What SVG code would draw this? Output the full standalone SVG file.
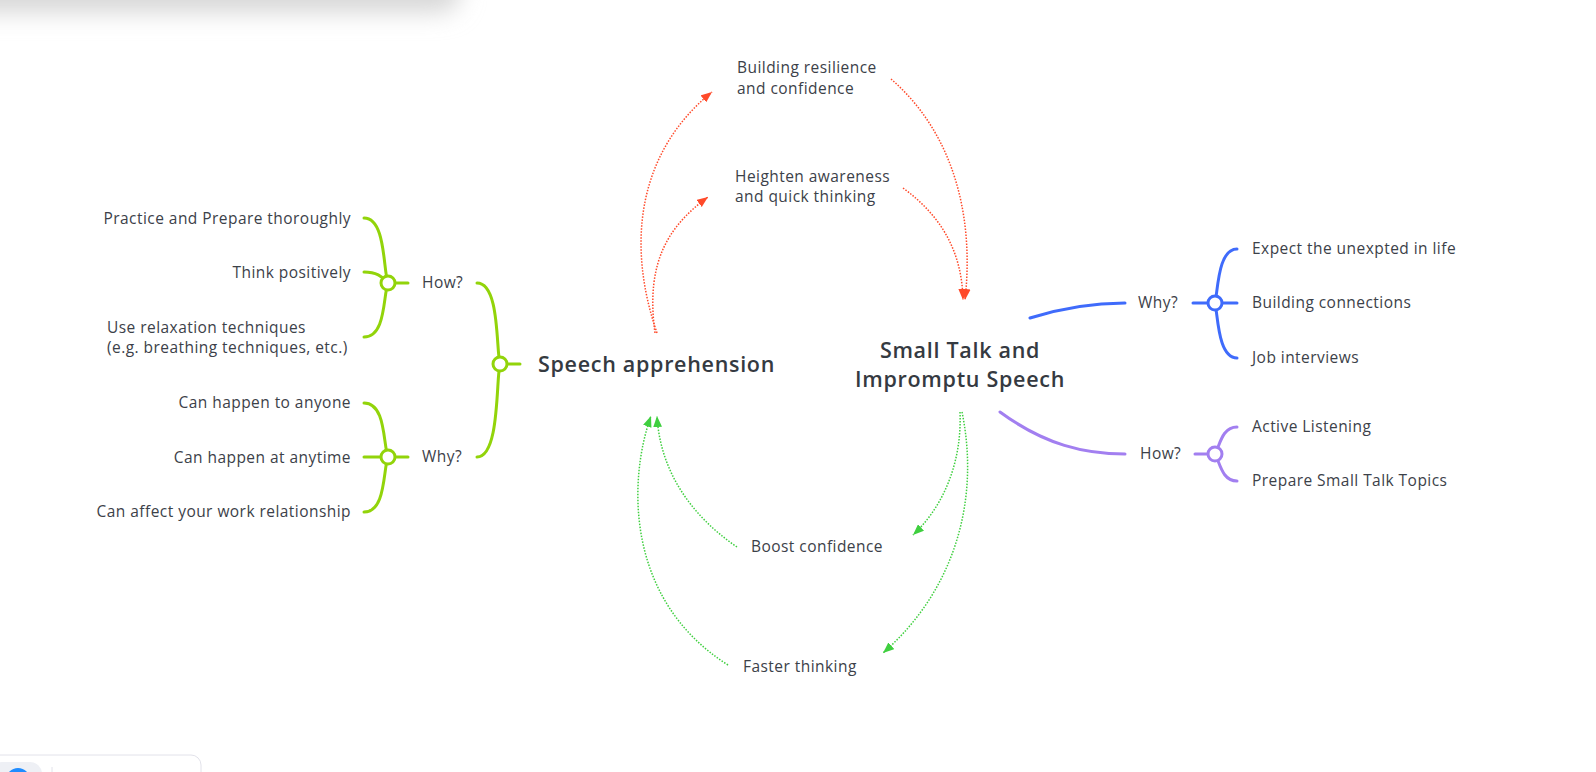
<svg xmlns="http://www.w3.org/2000/svg" width="1596" height="772" viewBox="0 0 1596 772">
<defs>
<style>
.t{font-family:"Open Sans","Liberation Sans",sans-serif;font-size:15.5px;letter-spacing:0.45px;fill:#3c4149}
.b{font-family:"Open Sans","Liberation Sans",sans-serif;font-size:21.5px;font-weight:600;letter-spacing:0.7px;fill:#353a41}
.lime{fill:none;stroke:#92d40a;stroke-width:3;stroke-linecap:round}
.blue{fill:none;stroke:#3f6bfb;stroke-width:3;stroke-linecap:round}
.purp{fill:none;stroke:#a27ff0;stroke-width:3;stroke-linecap:round}
.red{fill:none;stroke:#ff4a2a;stroke-width:1.5;stroke-dasharray:1.5 1.5}
.grn{fill:none;stroke:#3fcf3f;stroke-width:1.5;stroke-dasharray:1.5 1.5}
.hub{fill:#fff;stroke-width:3}
</style>
<marker id="ar" viewBox="0 0 10 8" refX="10" refY="4" markerWidth="11" markerHeight="9" markerUnits="userSpaceOnUse" orient="auto"><path d="M0,0 L10,4 L0,8 z" fill="#ff4a2a"/></marker>
<marker id="ag" viewBox="0 0 10 8" refX="10" refY="4" markerWidth="11" markerHeight="9" markerUnits="userSpaceOnUse" orient="auto"><path d="M0,0 L10,4 L0,8 z" fill="#3fcf3f"/></marker>
<filter id="blur" x="-20%" y="-100%" width="140%" height="300%"><feGaussianBlur stdDeviation="12"/></filter>
</defs>
<rect width="1596" height="772" fill="#fff"/>
<g id="ui">
<rect x="-60" y="-50" width="520" height="62" rx="20" fill="#d6d6d6" filter="url(#blur)"/>
<rect x="-60" y="-100" width="520" height="100" fill="#fff"/>
<rect x="-10" y="755" width="211" height="60" rx="10" fill="#fff" stroke="#e2e2ea" stroke-width="1"/>
<rect x="-10" y="762" width="52" height="40" rx="12" fill="#eef0f5"/>
<circle cx="18" cy="780" r="12" fill="#1f8cff"/>
<line x1="52" y1="767" x2="52" y2="772" stroke="#e2e2ea"/>
</g>
<g id="connectors">
<path class="red" d="M657,333 C625,240 640,150 712,92" marker-end="url(#ar)"/>
<path class="red" d="M655,333 C645,260 670,225 708,197" marker-end="url(#ar)"/>
<path class="red" d="M891,79 C950,130 975,210 965,300" marker-end="url(#ar)"/>
<path class="red" d="M903,188 C940,215 962,250 963,300" marker-end="url(#ar)"/>
<path class="grn" d="M737,547 C690,515 660,470 657,416" marker-end="url(#ag)"/>
<path class="grn" d="M728,665 C625,600 628,480 651,416" marker-end="url(#ag)"/>
<path class="grn" d="M960,412 C962,460 945,505 913,535" marker-end="url(#ag)"/>
<path class="grn" d="M962,412 C980,500 955,590 883,653" marker-end="url(#ag)"/>
</g>
<g id="speech-apprehension">
<path class="lime" d="M477,283 C500,283 496,350 500,364 M477,457 C500,457 496,378 500,364 M500,364 L520,364"/>
<circle class="hub" cx="500" cy="364" r="7" stroke="#92d40a"/>
<text class="b" x="538" y="372">Speech apprehension</text>
</g>
<g id="sa-how">
<path class="lime" d="M364,218 C386,218 383,270 388,283 M364,272 C376,272 382,276 388,283 M364,337 C386,337 383,296 388,283 M388,283 L408,283"/>
<circle class="hub" cx="388" cy="283" r="7" stroke="#92d40a"/>
<text class="t" x="422" y="288">How?</text>
<text class="t" x="351" y="224" text-anchor="end">Practice and Prepare thoroughly</text>
<text class="t" x="351" y="278" text-anchor="end">Think positively</text>
<text class="t" x="107" y="333">Use relaxation techniques</text>
<text class="t" x="107" y="353">(e.g. breathing techniques, etc.)</text>
</g>
<g id="sa-why">
<path class="lime" d="M364,403 C386,403 383,444 388,457 M364,457 L388,457 M364,512 C386,512 383,470 388,457 M388,457 L408,457"/>
<circle class="hub" cx="388" cy="457" r="7" stroke="#92d40a"/>
<text class="t" x="422" y="462">Why?</text>
<text class="t" x="351" y="408" text-anchor="end">Can happen to anyone</text>
<text class="t" x="351" y="463" text-anchor="end">Can happen at anytime</text>
<text class="t" x="351" y="517" text-anchor="end">Can affect your work relationship</text>
</g>
<g id="small-talk">
<text class="b" x="960" y="358" text-anchor="middle">Small Talk and</text>
<text class="b" x="960" y="387" text-anchor="middle">Impromptu Speech</text>
</g>
<g id="st-why">
<path class="blue" d="M1030,318 C1065,307 1095,303 1125,303 M1193,303 L1215,303 M1237,249 C1218,249 1218,290 1215,303 M1215,303 L1237,303 M1237,358 C1218,358 1218,316 1215,303"/>
<circle class="hub" cx="1215" cy="303" r="7" stroke="#3f6bfb"/>
<text class="t" x="1138" y="308">Why?</text>
<text class="t" x="1252" y="254">Expect the unexpted in life</text>
<text class="t" x="1252" y="308">Building connections</text>
<text class="t" x="1252" y="363">Job interviews</text>
</g>
<g id="st-how">
<path class="purp" d="M1000,412 C1045,445 1085,454 1125,454 M1195,454 L1215,454 M1237,427 C1222,427 1220,445 1215,454 M1237,481 C1222,481 1220,463 1215,454"/>
<circle class="hub" cx="1215" cy="454" r="7" stroke="#a27ff0"/>
<text class="t" x="1140" y="459">How?</text>
<text class="t" x="1252" y="432">Active Listening</text>
<text class="t" x="1252" y="486">Prepare Small Talk Topics</text>
</g>
<g id="building-resilience">
<text class="t" x="737" y="73">Building resilience</text>
<text class="t" x="737" y="94">and confidence</text>
</g>
<g id="heighten-awareness">
<text class="t" x="735" y="182">Heighten awareness</text>
<text class="t" x="735" y="202">and quick thinking</text>
</g>
<g id="boost-confidence">
<text class="t" x="751" y="552">Boost confidence</text>
</g>
<g id="faster-thinking">
<text class="t" x="743" y="672">Faster thinking</text>
</g>
</svg>
